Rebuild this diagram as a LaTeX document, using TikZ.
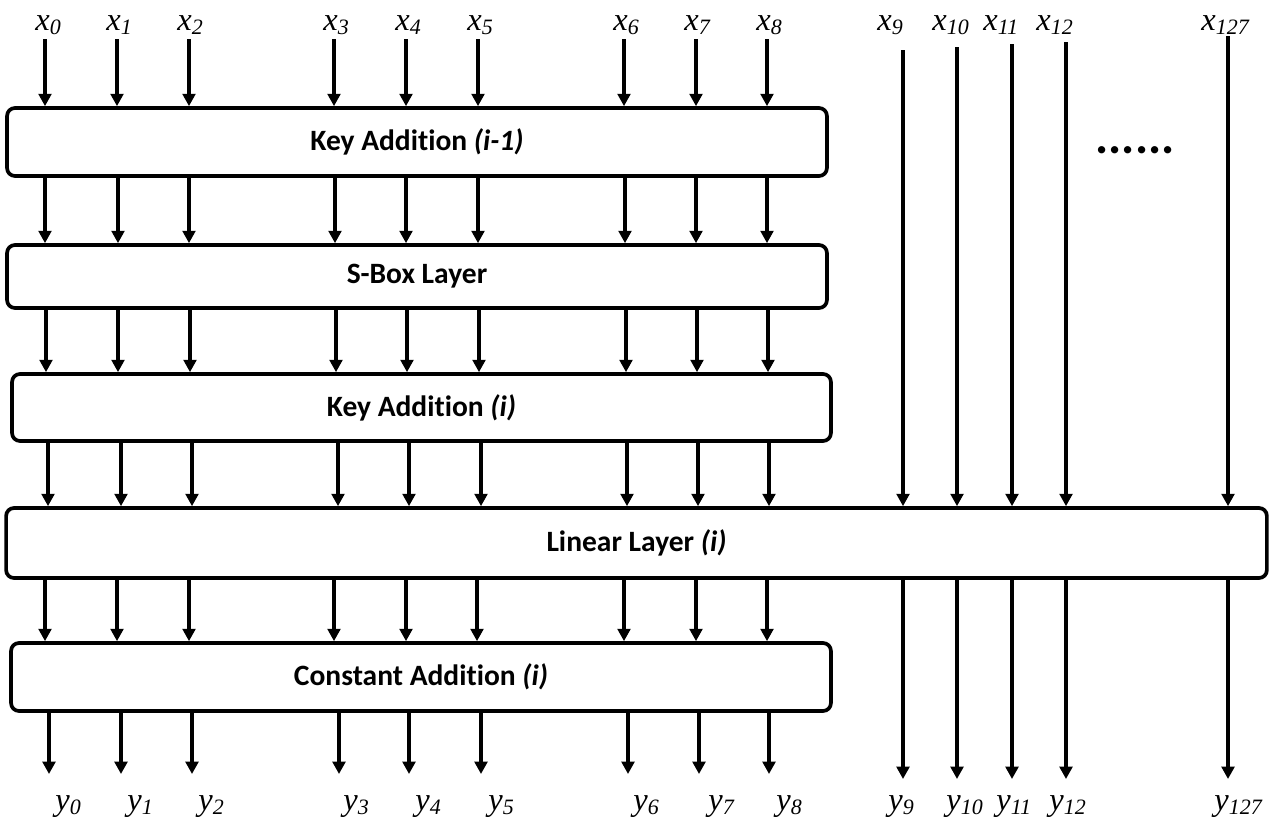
\documentclass[tikz,border=0pt]{standalone}
\usepackage{fontspec}
\setmainfont{Liberation Serif}
\newfontfamily\boxfont[Ligatures=NoCommon]{Carlito}
\usetikzlibrary{arrows.meta}
\newcommand\vlab[2]{\textit{#1}\raisebox{-0.3ex}{\fontsize{12.5}{14}\selectfont\itshape #2}}
\begin{document}
\begin{tikzpicture}[x=0.02cm,y=-0.02cm,
  blk/.style={draw, line width=2.1pt, rounded corners=4.5pt, inner sep=0pt,
    font=\boxfont\bfseries\fontsize{16.8}{19}\selectfont},
  arr/.style={line width=1.95pt, -{Triangle[length=7pt,width=7.2pt]}},
  lab/.style={anchor=base west, inner sep=0pt, font=\fontsize{18.5}{22}\selectfont}]
\useasboundingbox (0,0) rectangle (1270,822);
% boxes
\node[blk, minimum width=16.40cm, minimum height=1.36cm] (b1) at (417,142) {Key Addition \textit{(i-1)}};
\node[blk, minimum width=16.40cm, minimum height=1.26cm] (b2) at (417,276.5) {S-Box Layer};
\node[blk, minimum width=16.38cm, minimum height=1.34cm] (b3) at (421.5,407.5) {Key Addition \textit{(i)}};
\node[blk, minimum width=25.22cm, minimum height=1.40cm] (b4) at (636.5,543) {Linear Layer \textit{(i)}};
\node[blk, minimum width=16.40cm, minimum height=1.36cm] (b5) at (421,677) {Constant Addition \textit{(i)}};
\node[inner sep=0pt, font=\boxfont\bfseries\fontsize{28}{32}\selectfont] (dots) at (1135,150) {......};
% top labels
\foreach \xx/\n in {35/0,106/1,177/2,323/3,395/4,467/5,613/6,684/7,756/8,877/9,932/10,983/11,1036/12,1201/127}
  \node[lab] (x\n) at (\xx,30) {\vlab{x}{\n}};
% bottom labels
\foreach \xx/\n in {55/0,127/1,198/2,343/3,415/4,488/5,633/6,708/7,776/8,888/9,946/10,996/11,1049/12,1214/127}
  \node[lab] (y\n) at (\xx,810) {\vlab{y}{\n}};
% row 1: inputs into b1
\foreach \c/\n in {45/0,117/1,189/2,334/3,406/4,478/5,624/6,696/7,767/8} {
  \coordinate (s\n) at (\c,39);
  \draw[arr] (s\n) -- (s\n |- b1.north);
}
% row 2
\foreach \c in {45,118,189,335,406,478,625,696,767} {
  \coordinate (c) at (\c,0);
  \draw[arr] (c |- b1.south) -- (c |- b2.north);
}
% row 3
\foreach \c in {46,118,190,336,407,479,626,697,768} {
  \coordinate (c) at (\c,0);
  \draw[arr] (c |- b2.south) -- (c |- b3.north);
}
% row 4
\foreach \c in {48,121,192,338,409,481,627,698,769} {
  \coordinate (c) at (\c,0);
  \draw[arr] (c |- b3.south) -- (c |- b4.north);
}
% row 5
\foreach \c in {45,117,189,334,406,477,624,696,767} {
  \coordinate (c) at (\c,0);
  \draw[arr] (c |- b4.south) -- (c |- b5.north);
}
% row 6: outputs
\foreach \c/\n in {49/0,121/1,192/2,339/3,409/4,481/5,628/6,699/7,769/8} {
  \coordinate (e\n) at (\c,774);
  \draw[arr] (e\n |- b5.south) -- (e\n);
}
% pass-through wires
\foreach \c/\t/\n in {903/50/9,957/47/10,1012/44/11,1066/42/12,1228/36/127} {
  \coordinate (s\n) at (\c,\t);
  \coordinate (e\n) at (\c,779);
  \draw[arr] (s\n) -- (s\n |- b4.north);
  \draw[arr] (e\n |- b4.south) -- (e\n);
}
\end{tikzpicture}
\end{document}
